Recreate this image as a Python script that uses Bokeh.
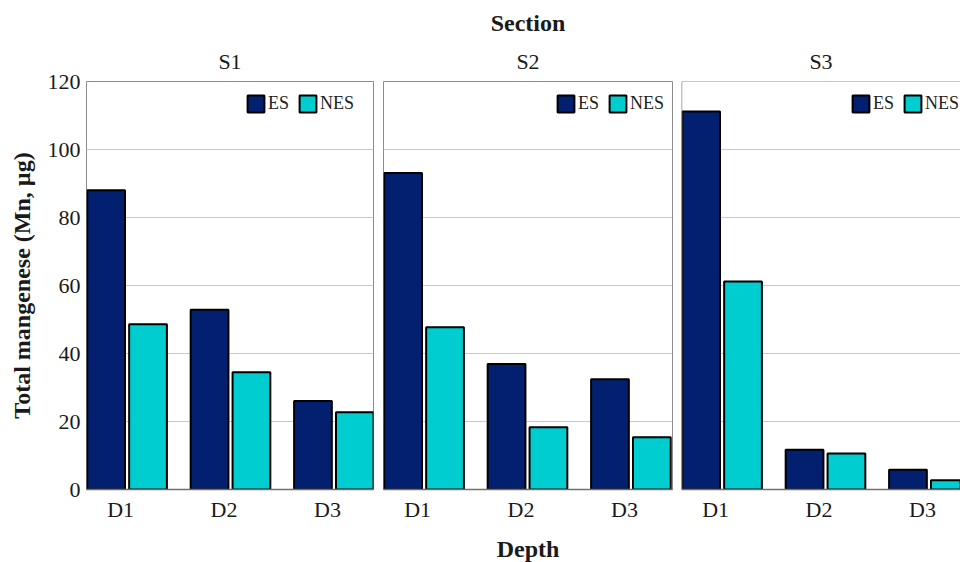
from bokeh.plotting import figure
from bokeh.layouts import row
from bokeh.models import (ColumnDataSource, FixedTicker, Range1d, Title, Span,
                          Legend, LegendItem)
from bokeh.embed import file_html
from bokeh.resources import INLINE

sections = ["S1", "S2", "S3"]
depths = ["D1", "D2", "D3"]
es_values = {"S1": [88.0, 52.9, 26.0], "S2": [93.1, 36.9, 32.4], "S3": [111.2, 11.7, 5.8]}
nes_values = {"S1": [48.6, 34.5, 22.7], "S2": [47.7, 18.3, 15.4], "S3": [61.2, 10.6, 2.7]}
y_ticks = [0, 20, 40, 60, 80, 100, 120]

ES_COLOR = "#02206f"
NES_COLOR = "#00cdd0"
FONT = "Liberation Serif"

X0 = -0.33
UNITS_PER_PX = 2.785 / 288.0

TOP = 81
BOTTOM = 72

# (frame_width, min_border_left, min_border_right, legend x offset in px)
geom = {"S1": (287, 86, 5, 159), "S2": (289, 5, 4, 172), "S3": (279, 5, 0, 169)}

figs = []
for si, s in enumerate(sections):
    fw, bl, br, lx = geom[s]
    x_end = X0 + fw * UNITS_PER_PX
    p = figure(frame_width=fw, frame_height=408, output_backend="svg", toolbar_location=None,
               x_range=Range1d(X0, x_end), y_range=Range1d(0, 120),
               min_border_left=bl, min_border_right=br,
               min_border_top=TOP, min_border_bottom=BOTTOM)
    xs = list(range(len(depths)))
    src = ColumnDataSource(dict(
        x_es=[x - 0.14 for x in xs], x_nes=[x + 0.265 for x in xs],
        es=es_values[s], nes=nes_values[s]))
    r_es = p.vbar(x="x_es", top="es", width=0.365, source=src,
                  fill_color=ES_COLOR, line_color="black", line_width=2)
    r_nes = p.vbar(x="x_nes", top="nes", width=0.365, source=src,
                   fill_color=NES_COLOR, line_color="black", line_width=2)

    legend = Legend(items=[LegendItem(label="ES", renderers=[r_es]),
                           LegendItem(label="NES", renderers=[r_nes])],
                    orientation="horizontal", location=(lx, 375))
    legend.border_line_color = None
    legend.background_fill_alpha = 0
    legend.label_text_font = FONT
    legend.label_text_font_size = "18px"
    legend.label_text_color = "#222222"
    legend.glyph_width = 21
    legend.glyph_height = 21
    legend.label_standoff = 2
    legend.spacing = 8
    legend.padding = 3
    legend.margin = 0
    legend.label_height = 21
    p.add_layout(legend)

    p.xaxis.ticker = FixedTicker(ticks=xs)
    p.xaxis.major_label_overrides = {i: d for i, d in enumerate(depths)}
    p.xaxis.major_label_text_font = FONT
    p.xaxis.major_label_text_font_size = "22px"
    p.xaxis.major_label_text_color = "#1a1a1a"
    p.xaxis.major_label_standoff = 1
    p.xaxis.major_tick_line_color = None
    p.xaxis.minor_tick_line_color = None
    p.xaxis.axis_line_color = "#6f6f6f"
    p.xaxis.axis_line_width = 1.5

    p.yaxis.ticker = FixedTicker(ticks=y_ticks)
    p.ygrid.ticker = FixedTicker(ticks=y_ticks)
    p.ygrid.grid_line_color = "#c9c9c9"
    p.ygrid.grid_line_width = 1
    p.xgrid.grid_line_color = None

    if si == 0:
        p.yaxis.axis_label = "Total mangenese (Mn, \u00b5g)"
        p.yaxis.axis_label_text_font = FONT
        p.yaxis.axis_label_text_font_style = "bold"
        p.yaxis.axis_label_text_font_size = "24px"
        p.yaxis.axis_label_text_color = "#1a1a1a"
        p.yaxis.axis_label_standoff = 10
        p.yaxis.major_label_text_font = FONT
        p.yaxis.major_label_text_font_size = "22px"
        p.yaxis.major_label_text_color = "#1a1a1a"
        p.yaxis.major_label_standoff = 0
        p.yaxis.major_tick_line_color = None
        p.yaxis.minor_tick_line_color = None
        p.yaxis.axis_line_color = None
    else:
        p.yaxis.visible = False

    if si == 1:
        p.xaxis.axis_label = "Depth"
        p.xaxis.axis_label_text_font = FONT
        p.xaxis.axis_label_text_font_style = "bold"
        p.xaxis.axis_label_text_font_size = "24px"
        p.xaxis.axis_label_text_color = "#1a1a1a"
        p.xaxis.axis_label_standoff = 11
    p.add_layout(Title(text=s, align="center", text_font=FONT, text_font_size="22px",
                       text_font_style="normal", text_color="#1a1a1a", standoff=16), "above")
    if si == 1:
        p.add_layout(Title(text="Section", align="center", text_font=FONT,
                           text_font_size="24px", text_font_style="bold",
                           text_color="#1a1a1a", standoff=5), "above")

    if si == 2:
        p.outline_line_color = None
        p.add_layout(Span(location=120, dimension="width", line_color="#8c8c8c", line_width=1))
        p.add_layout(Span(location=X0, dimension="height", line_color="#8c8c8c", line_width=1.5))
    else:
        p.outline_line_color = "#8c8c8c"
        p.outline_line_width = 1
    p.background_fill_color = "white"
    p.border_fill_color = "white"
    figs.append(p)

layout = row(*figs, spacing=0)
open("out.html", "w").write(file_html(layout, INLINE))
